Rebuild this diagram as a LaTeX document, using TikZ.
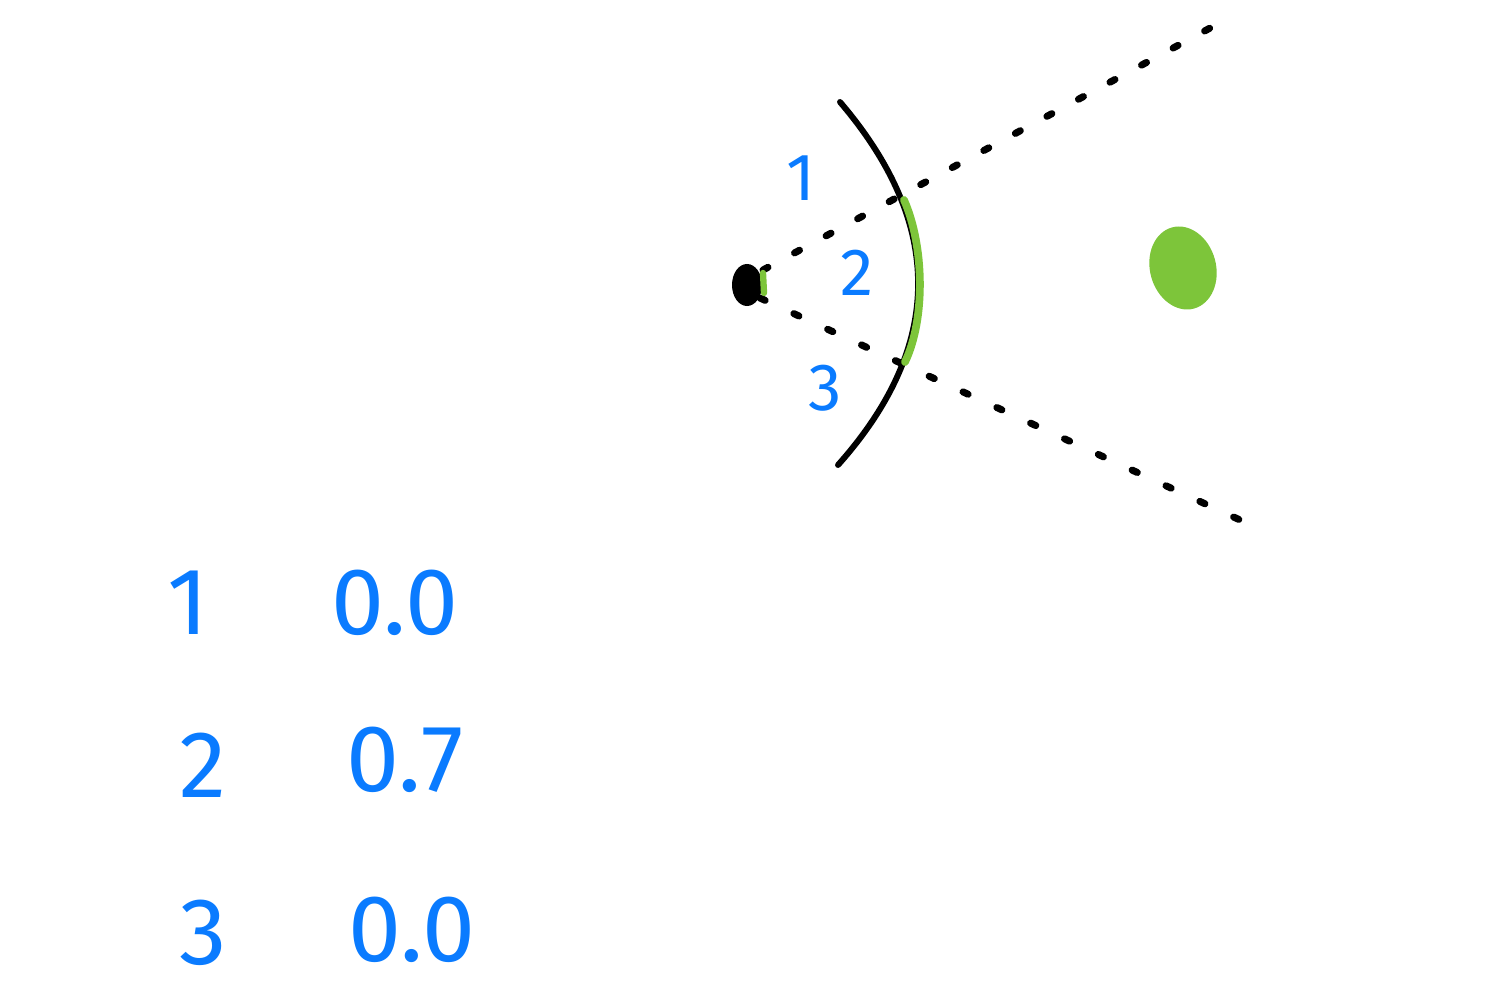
\documentclass[tikz,border=0pt]{standalone}
\usepackage{fontspec}
\usetikzlibrary{shapes.geometric}
\setmainfont{Fira Sans}
\definecolor{penblue}{HTML}{0A7BFF}
\definecolor{pengreen}{HTML}{7DC53A}
\begin{document}
\begin{tikzpicture}[x=0.01cm,y=-0.01cm,
  ray/.style={line width=2pt,line cap=round},
  lens/.style={line width=1.7pt,line cap=round},
  hit/.style={pengreen,line width=2.2pt,line cap=round},
  lbl/.style={text=penblue,font=\fontsize{19}{19}\selectfont,inner sep=0pt},
  tbl/.style={text=penblue,font=\fontsize{27}{27}\selectfont,inner sep=0pt}]
\useasboundingbox (0,0) rectangle (1500,995);
% camera
\node[fill=black,ellipse,minimum width=0.3cm,minimum height=0.42cm,inner sep=0pt] (cam) at (747,285) {};
\coordinate (r1s) at (763,270);
\coordinate (r1e) at (1212,27);
\coordinate (r2s) at (760,298);
\coordinate (r2e) at (1240,520);
\draw[ray,dash pattern=on 1.6pt off 8.6pt] (r1s) -- (r1e);
\draw[ray,dash pattern=on 1.6pt off 9pt] (r2s) -- (r2e);
\draw[hit,line width=1.8pt] (763,273) -- (764,293);
% lens arc
\coordinate (a1) at (840,102);
\coordinate (a2) at (838,465);
\draw[lens] (a1) .. controls (945,225) and (944,346) .. (a2);
\coordinate (g1) at (904,200);
\coordinate (g2) at (905,362);
\draw[hit] (g1) .. controls (924,245) and (926,318) .. (g2);
% target
\fill[pengreen,rotate around={15:(1183,268)}] (1183,268) ellipse (0.33cm and 0.42cm);
\node[inner sep=0pt] (target) at (1183,268) {};
% labels
\node[lbl] (l1) at (801,178) {1};
\node[lbl] (l2) at (857,273) {2};
\node[lbl] (l3) at (825,388) {3};
% table
\node[tbl] (t1) at (188,603) {1};
\node[tbl] (v1) at (395,603) {0.0};
\node[tbl] (t2) at (203,765) {2};
\node[tbl] (v2) at (405,760) {0.7};
\node[tbl] (t3) at (203,933) {3};
\node[tbl] (v3) at (412,930) {0.0};
\end{tikzpicture}
\end{document}
